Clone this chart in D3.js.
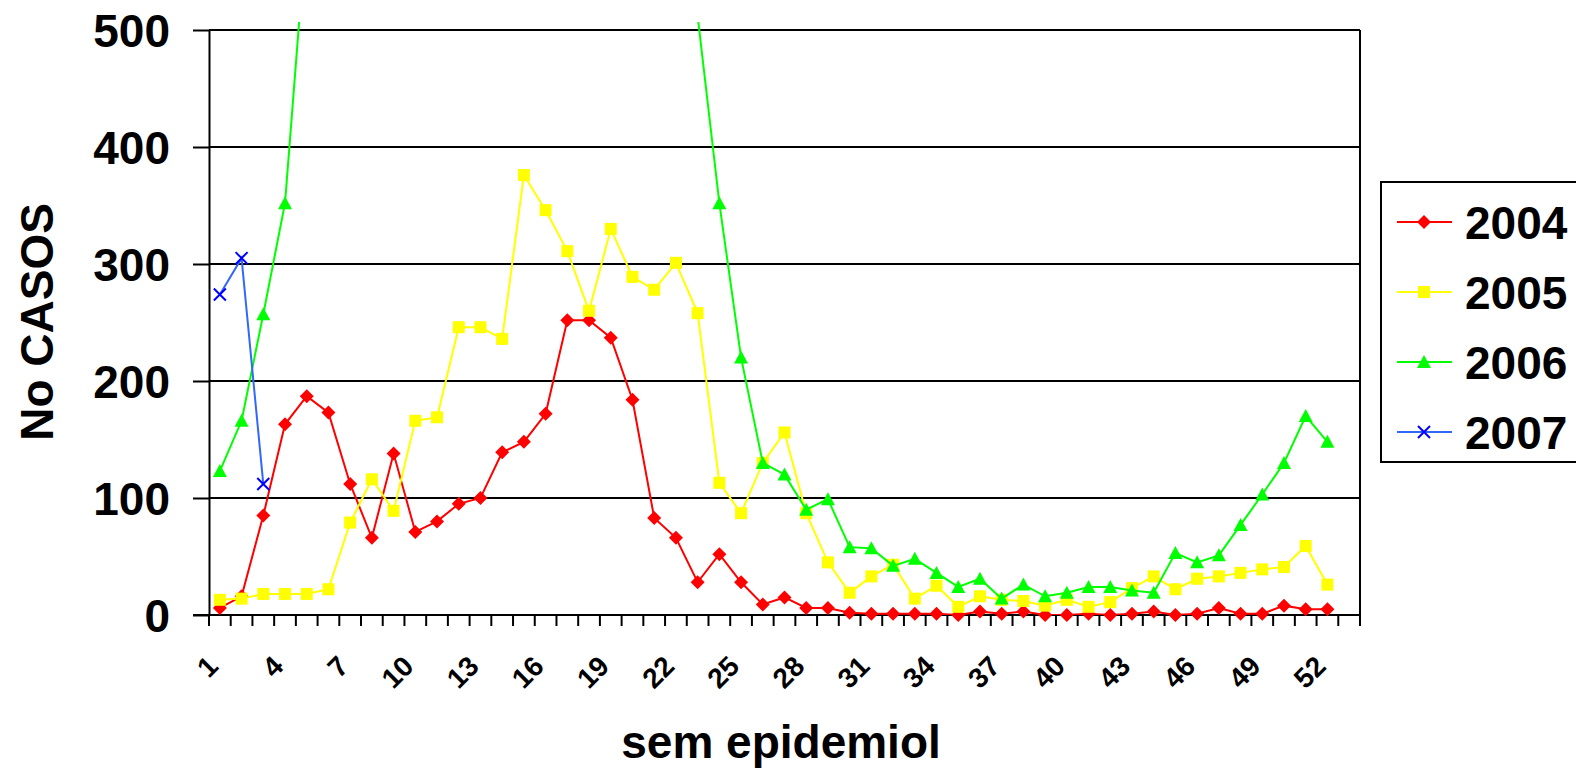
<!DOCTYPE html>
<html lang="en">
<head>
  <meta charset="UTF-8">
  <title>No CASOS por sem epidemiol</title>
  <style>
    body { margin: 0; background: #fff; }
    svg text { font-family: "Liberation Sans", Arial, sans-serif; font-weight: bold; fill: #000; }
  </style>
</head>
<body>
  <svg id="svg" width="1576" height="771"></svg>

  <script src="https://d3js.org/d3.v7.min.js"></script>
  <script>
    // weeks 1..53 (53 is an empty slot at the end of the axis)
    const weeks = d3.range(1, 54)
    const weekLabels = [1, 4, 7, 10, 13, 16, 19, 22, 25, 28, 31, 34, 37, 40, 43, 46, 49, 52]
    const yTicks = [0, 100, 200, 300, 400, 500]
    const years = ['2004', '2005', '2006', '2007']

    const cases2004 = [6, 16, 85, 163, 187, 173, 112, 66, 138, 71, 80, 95, 100, 139, 148, 172, 252, 252, 237, 184,
      83, 66, 28, 52, 28, 9, 15, 6, 6, 2, 1, 1, 1, 1, 0, 3, 1, 3, 0, 0,
      1, 0, 1, 3, 0, 1, 6, 1, 1, 8, 5, 5]
    const cases2005 = [13, 14, 18, 18, 18, 22, 79, 116, 89, 166, 169, 246, 246, 236, 376, 346, 311, 260, 330, 289,
      278, 301, 258, 113, 87, 130, 156, 87, 45, 19, 33, 43, 14, 25, 7, 16, 13, 12, 8, 13,
      7, 11, 23, 33, 22, 31, 33, 36, 39, 41, 59, 26]
    // weeks 5-23 run off the top of the chart, those values are guesses
    const cases2006 = [123, 166, 257, 352, 590, 720, 860, 1050, 1180, 1300, 1420, 1500, 1560, 1480, 1390, 1250, 1100, 950, 820, 700,
      620, 560, 512, 352, 220, 130, 120, 90, 99, 58, 57, 42, 48, 36, 24, 31, 14, 26, 16, 19,
      24, 24, 21, 19, 53, 45, 51, 77, 103, 130, 170, 148]
    const cases2007 = [274, 305, 112]

    const seriesColors = ['#ff0000', '#ffff00', '#00ff00', '#3366ff']
    const markerColors = ['#ff0000', '#ffff00', '#00ff00', '#0000ff']
    const markerTypes = ['diamond', 'square', 'triangle', 'x']

    const series = [cases2004, cases2005, cases2006, cases2007].map((vals, i) => ({
      name: years[i],
      color: seriesColors[i],
      markerColor: markerColors[i],
      marker: markerTypes[i],
      values: vals.map((v, j) => ({ week: weeks[j], value: v }))
    }))

    const plot = { left: 209, right: 1360, top: 30, bottom: 615 }

    const x = d3.scaleBand()
      .domain(weeks)
      .range([plot.left, plot.right])
    const cx = w => x(w) + x.bandwidth() / 2

    const y = d3.scaleLinear()
      .domain([0, 500])
      .range([plot.bottom, plot.top])

    const svg = d3.select('#svg')

    svg.append('defs').append('clipPath')
      .attr('id', 'clip')
      .append('rect')
      .attr('x', plot.left)
      .attr('y', plot.top - 8)
      .attr('width', plot.right - plot.left)
      .attr('height', plot.bottom - plot.top + 8)

    // gridlines
    svg.append('g')
      .selectAll('line')
      .data(yTicks)
      .enter()
      .append('line')
      .attr('x1', plot.left)
      .attr('x2', plot.right)
      .attr('y1', d => y(d))
      .attr('y2', d => y(d))
      .attr('stroke', '#000')
      .attr('stroke-width', 2)

    // right border of plot area
    svg.append('line')
      .attr('x1', plot.right).attr('x2', plot.right)
      .attr('y1', plot.top).attr('y2', plot.bottom)
      .attr('stroke', '#000')
      .attr('stroke-width', 2)

    // left axis
    const leftAxis = d3.axisLeft(y)
      .tickValues(yTicks)
      .tickSize(16)
      .tickSizeOuter(0)
      .tickPadding(23)
    const gy = svg.append('g')
      .attr('transform', `translate(${plot.left}, 0)`)
      .call(leftAxis)
    gy.select('.domain').attr('stroke', '#000').attr('stroke-width', 2)
    gy.selectAll('.tick line').attr('stroke', '#000').attr('stroke-width', 2)
    gy.selectAll('.tick text')
      .attr('font-size', 46)
      .attr('font-family', '"Liberation Sans", Arial, sans-serif')
      .attr('font-weight', 'bold')
      .attr('dy', '0.36em')

    // bottom axis: ticks sit on the band edges
    const tickWeeks = weeks.concat([null])
    const tickX = d => d === null ? plot.right : x(d)
    const gx = svg.append('g')
    gx.append('line')
      .attr('x1', plot.left - 16).attr('x2', plot.right)
      .attr('y1', plot.bottom).attr('y2', plot.bottom)
      .attr('stroke', '#000')
      .attr('stroke-width', 2)
    gx.selectAll('line.tick')
      .data(tickWeeks)
      .enter()
      .append('line')
      .attr('class', 'tick')
      .attr('x1', d => tickX(d))
      .attr('x2', d => tickX(d))
      .attr('y1', plot.bottom)
      .attr('y2', plot.bottom + 11)
      .attr('stroke', '#000')
      .attr('stroke-width', 2)
    gx.selectAll('text')
      .data(weekLabels)
      .enter()
      .append('text')
      .attr('transform', d => `translate(${cx(d)}, 668) rotate(-45)`)
      .attr('text-anchor', 'end')
      .attr('font-size', 28)
      .text(d => d)

    // axis titles
    svg.append('text')
      .attr('x', 781)
      .attr('y', 758)
      .attr('text-anchor', 'middle')
      .attr('font-size', 46)
      .text('sem epidemiol')

    svg.append('text')
      .attr('transform', 'translate(53, 322) rotate(-90)')
      .attr('text-anchor', 'middle')
      .attr('font-size', 46)
      .text('No CASOS')

    // marker drawing
    function drawMarker(g, type, color) {
      if (type === 'diamond') {
        g.append('path').attr('d', 'M0,-7L7,0L0,7L-7,0Z').attr('fill', color)
      } else if (type === 'square') {
        g.append('rect').attr('x', -6).attr('y', -6).attr('width', 12).attr('height', 12).attr('fill', color)
      } else if (type === 'triangle') {
        g.append('path').attr('d', 'M0,-7L7,6L-7,6Z').attr('fill', color)
      } else {
        g.append('path').attr('d', 'M-6,-6L6,6M-6,6L6,-6').attr('stroke', color).attr('stroke-width', 2).attr('fill', 'none')
      }
    }

    const line = d3.line()
      .x(d => cx(d.week))
      .y(d => y(d.value))

    series.forEach(s => {
      const g = svg.append('g')
      g.append('path')
        .datum(s.values)
        .attr('clip-path', 'url(#clip)')
        .attr('fill', 'none')
        .attr('stroke', s.color)
        .attr('stroke-width', 2)
        .attr('d', line)

      g.selectAll('g.marker')
        .data(s.values.filter(d => d.value <= 500))
        .enter()
        .append('g')
        .attr('class', 'marker')
        .attr('transform', d => `translate(${cx(d.week)}, ${y(d.value)})`)
        .each(function () { drawMarker(d3.select(this), s.marker, s.markerColor) })
    })

    // legend
    const legend = svg.append('g')
    legend.append('rect')
      .attr('x', 1381)
      .attr('y', 182)
      .attr('width', 240)
      .attr('height', 280)
      .attr('fill', '#fff')
      .attr('stroke', '#000')
      .attr('stroke-width', 2)

    const legendY = d3.scalePoint()
      .domain(years)
      .range([222, 432])

    series.forEach(s => {
      const row = legend.append('g')
        .attr('transform', `translate(0, ${legendY(s.name)})`)
      row.append('line')
        .attr('x1', 1397).attr('x2', 1452)
        .attr('y1', 0).attr('y2', 0)
        .attr('stroke', s.color)
        .attr('stroke-width', 2)
      const m = row.append('g').attr('transform', 'translate(1424, 0)')
      drawMarker(m, s.marker, s.markerColor)
      row.append('text')
        .attr('x', 1465)
        .attr('dy', '0.36em')
        .attr('font-size', 46)
        .text(s.name)
    })
  </script>
</body>
</html>
